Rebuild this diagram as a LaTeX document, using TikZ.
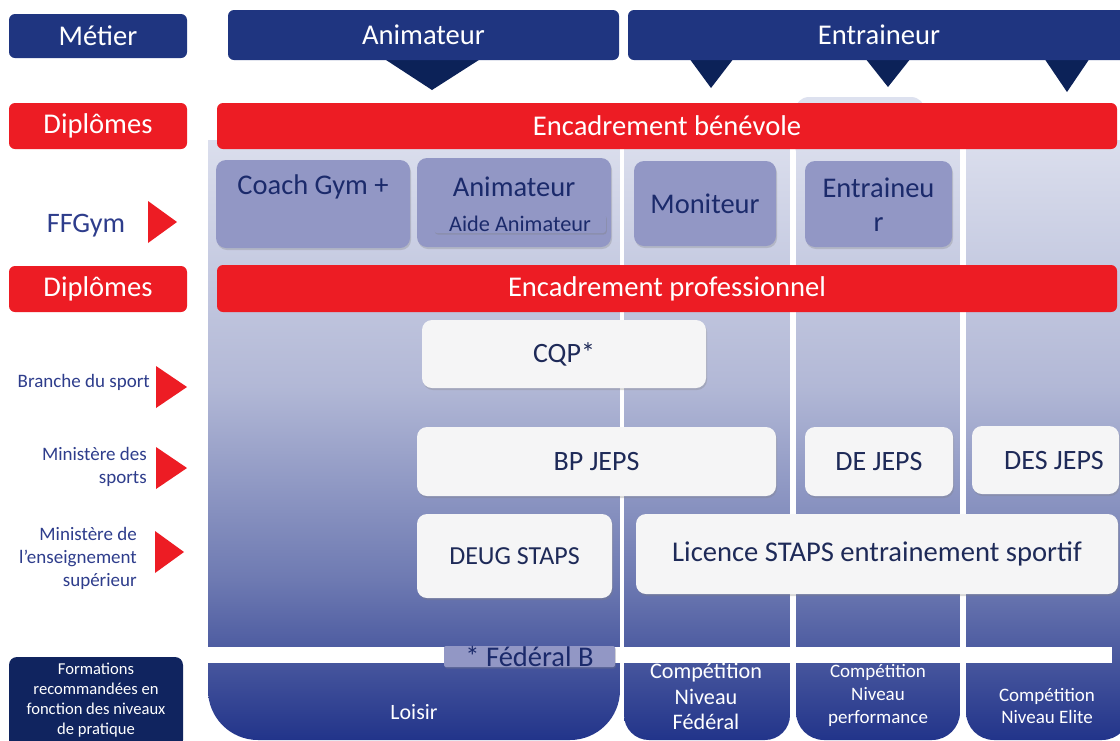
\documentclass[tikz,border=0pt]{standalone}
\usepackage{fontspec}
\setmainfont{Carlito}
\usetikzlibrary{shadows}
\definecolor{navy}{HTML}{1F3580}
\definecolor{navydark}{HTML}{0C2258}
\definecolor{navyform}{HTML}{10245F}
\definecolor{redc}{HTML}{ED1C24}
\definecolor{lav}{HTML}{9297C5}
\definecolor{lavtext}{HTML}{1B2A6B}
\definecolor{wbox}{HTML}{F5F5F6}
\definecolor{wtext}{HTML}{1E2A58}
\definecolor{lbltext}{HTML}{2E3D8C}
\definecolor{gA}{HTML}{22348A}
\definecolor{gB}{HTML}{6E7AB2}
\definecolor{gC}{HTML}{B2B8D6}
\definecolor{gD}{HTML}{E2E5F1}
\definecolor{toplight}{HTML}{DDE1EF}
\pgfdeclareverticalshading{colgrad}{100bp}{color(0bp)=(gA); color(25bp)=(gA); color(37.5bp)=(gB); color(52.5bp)=(gC); color(75bp)=(gD); color(100bp)=(gD)}
\newcommand{\fs}[2]{\fontsize{#1}{#2}\selectfont}
\newcommand{\colshade}[3]{%
  \begin{scope}
  \clip (#1,140) rectangle (#2,741);
  \clip[rounded corners=#3pt] (#1,0) rectangle (#2,740);
  \shade[shading=colgrad] (200,97) rectangle (1130,740);
  \end{scope}}
\tikzset{
  headbox/.style={fill=navy, rounded corners=6pt, text=white, inner sep=0pt, font=\fs{28.6}{33}},
  redbar/.style={fill=redc, rounded corners=6pt, text=white, inner sep=0pt, font=\fs{28.6}{33}},
  lavbox/.style={fill=lav, rounded corners=10pt, inner sep=0pt, drop shadow={shadow xshift=1pt, shadow yshift=-2pt, opacity=.3}},
  lavtxt/.style={text=lavtext, inner sep=0pt, font=\fs{28.5}{34}, align=center},
  whitebox/.style={fill=wbox, rounded corners=10pt, text=wtext, inner sep=0pt, font=\fs{28}{33}, drop shadow={shadow xshift=1pt, shadow yshift=-2pt, opacity=.3}},
  sidelbl/.style={text=lbltext, inner sep=0pt, font=\fs{19}{23}, align=right},
  redtri/.style={fill=redc},
  navytri/.style={fill=navydark},
  botlbl/.style={text=white, inner sep=0pt, align=center}
}
\begin{document}
\begin{tikzpicture}[x=1pt,y=-1pt]
\useasboundingbox (0,0) rectangle (1120,740);
\fill[white] (0,0) rectangle (1120,740);
% background columns
\fill[toplight, rounded corners=14pt] (795,97) rectangle (925,160);
\colshade{208}{620}{50}
\colshade{624}{790}{25}
\colshade{796}{960}{28}
\colshade{966}{1130}{28}
% white band
\fill[white] (208,647) rectangle (1112,663);
% header row
\node[headbox, minimum width=178pt, minimum height=44pt] (metier) at (98,36) {Métier};
\fill[navytri] (383,58) -- (482,58) -- (432,90) -- cycle;
\fill[navytri] (689,58) -- (734,58) -- (711,88) -- cycle;
\fill[navytri] (865,58) -- (911,58) -- (888,87) -- cycle;
\fill[navytri] (1044,58) -- (1090,58) -- (1067,92) -- cycle;
\node[headbox, minimum width=391pt, minimum height=50pt] (anim) at (423.5,35) {Animateur};
\node[headbox, minimum width=502pt, minimum height=50pt] (entr) at (879,35) {Entraineur};
% red bars
\node[redbar, minimum width=178pt, minimum height=46pt] (dipl1) at (98,126) {Diplômes};
\node[redbar, minimum width=900pt, minimum height=46pt] (benev) at (667,126) {Encadrement bénévole};
\node[redbar, minimum width=178pt, minimum height=46pt] (dipl2) at (98,289) {Diplômes};
\node[redbar, minimum width=900pt, minimum height=47pt] (pro) at (667,288.5) {Encadrement professionnel};
% FFGym row
\node[text=lbltext, inner sep=0pt, font=\fs{28.2}{32}] (ffgym) at (86,226) {FFGym};
\fill[redtri] (148,201) -- (148,243) -- (177,222) -- cycle;
\node[lavbox, minimum width=194pt, minimum height=88pt] (coach) at (313,204) {};
\node[lavtxt] (coacht) at (313,187) {Coach Gym +};
\node[lavbox, minimum width=194pt, minimum height=89pt] (animff) at (514,202.5) {};
\node[lavtxt] (animfft) at (514,187) {Animateur};
\node[fill=lav, rounded corners=3pt, minimum width=172pt, minimum height=19pt, inner sep=0pt, text=lavtext, font=\fs{22.3}{24}, drop shadow={shadow xshift=.8pt, shadow yshift=-1.5pt, opacity=.35}] (aide) at (520,223.5) {Aide Animateur};
\node[lavbox, minimum width=142pt, minimum height=85pt] (monit) at (705,203.5) {};
\node[lavtxt] (monitt) at (705,204) {Moniteur};
\node[lavbox, minimum width=147pt, minimum height=86pt] (entrff) at (878.5,204) {};
\node[lavtxt] (entrfft) at (878.5,205) {Entraineu\\r};
% side labels
\node[sidelbl, anchor=east] (branche) at (150,382) {Branche du sport};
\fill[redtri] (156,366) -- (156,408) -- (187,387) -- cycle;
\node[sidelbl, anchor=east] (minsp) at (147,466.5) {Ministère des\\sports};
\fill[redtri] (156,447) -- (156,489) -- (187,468) -- cycle;
\node[sidelbl, anchor=east] (minens) at (137,558) {Ministère de\\l’enseignement\\supérieur};
\fill[redtri] (155,531) -- (155,573) -- (184,552) -- cycle;
% white boxes
\node[whitebox, minimum width=284pt, minimum height=68pt] (cqp) at (564,354) {CQP*};
\node[whitebox, minimum width=359pt, minimum height=69pt] (bp) at (596.5,461.5) {BP JEPS};
\node[whitebox, minimum width=148pt, minimum height=69pt] (de) at (879,461.5) {DE JEPS};
\node[whitebox, minimum width=147pt, minimum height=68pt] (des) at (1045.5,460) {};
\node[text=wtext, inner sep=0pt, font=\fs{28}{33}] (dest) at (1054,461) {DES JEPS};
\node[whitebox, minimum width=195pt, minimum height=84pt, font=\fs{26}{31}] (deug) at (514.5,556) {DEUG STAPS};
\node[whitebox, minimum width=482pt, minimum height=80pt, font=\fs{28.6}{33}] (lic) at (877,554) {Licence STAPS entrainement sportif};
% Federal B
\node[fill=lav, rounded corners=2pt, minimum width=171pt, minimum height=21pt, inner sep=0pt, text=lavtext, font=\fs{28.5}{30}, drop shadow={shadow xshift=.8pt, shadow yshift=-1.5pt, opacity=.3}] (fedb) at (529.5,656.5) {* Fédéral B};
% bottom labels
\node[botlbl, font=\fs{21.9}{25}] (loisir) at (414,712) {Loisir};
\node[botlbl, font=\fs{22.2}{25.5}] (fed) at (706,696.5) {Compétition\\Niveau\\Fédéral};
\node[botlbl, font=\fs{19}{23}] (perf) at (878,695) {Compétition\\Niveau\\performance};
\node[botlbl, font=\fs{19}{22}] (elite) at (1047,706) {Compétition\\Niveau Elite};
% formations
\node[fill=navyform, rounded corners=8pt, minimum width=174pt, minimum height=91pt, inner sep=0pt] (form) at (96,702.5) {};
\node[botlbl, font=\fs{16.6}{20}] (formt) at (96,700) {Formations\\recommandées en\\fonction des niveaux\\de pratique};
\end{tikzpicture}
\end{document}
